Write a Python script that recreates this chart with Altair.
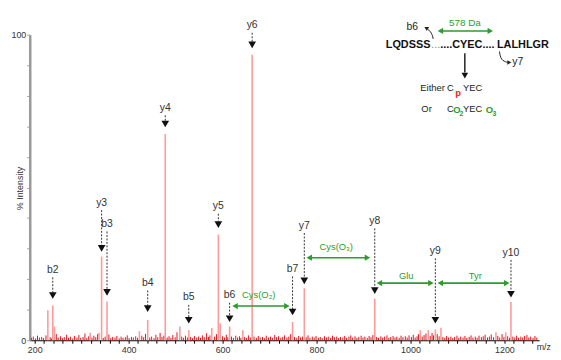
import altair as alt
import pandas as pd

# ---------------- data ----------------
ion_labels = ["b2", "y3", "b3", "b4", "y4", "b5", "y5", "b6", "y6", "b7", "y7", "y8", "y9", "y10"]
ion_mz = [238.5, 342.5, 354, 440.6, 478, 528, 591, 615, 663, 749, 774, 924, 1053, 1214]
ion_int = [11.4, 27.4, 12.7, 6.6, 67.5, 3.3, 34.6, 4.5, 93.4, 6.0, 17.0, 13.6, 3.5, 12.5]
ion_label_y = [23, 45, 38, 18.7, 76, 14, 43.8, 14.7, 103, 23.3, 37.5, 39, 29.2, 28.7]
ion_tip_y = [13.6, 29, 14.6, 9.3, 69.7, 5.5, 36.8, 6.0, 95.6, 8.2, 18.4, 15.2, 5.5, 14.0]

other_mz = [228, 242, 318, 337, 423, 509, 577, 595, 643, 1021, 1038, 1065, 1182, 1203]
other_int = [9.8, 4.5, 2.5, 2.5, 3.0, 4.5, 4.0, 5.5, 3.3, 3.3, 3.3, 4.1, 2.6, 2.6]

noise_peaks = [
    (193, 0.8), (197, 1.2), (202, 0.6), (206, 1.5), (210, 0.9), (215, 1.1), (219, 0.7), (224, 1.6),
    (233, 1.0), (236, 0.6), (246, 2.0), (250, 0.9), (255, 1.3), (259, 0.7), (263, 1.0), (268, 1.8),
    (272, 0.8), (276, 1.2), (281, 0.6), (285, 1.4), (290, 0.9), (294, 1.7), (298, 0.8), (303, 1.1),
    (307, 2.2), (311, 0.7), (315, 1.3), (322, 0.9), (326, 1.5), (330, 1.0), (334, 2.0), (346, 0.8),
    (350, 1.2), (358, 1.9), (362, 0.7), (366, 1.1), (371, 0.9), (375, 1.4), (380, 0.6), (384, 1.2),
    (388, 0.8), (393, 1.0), (397, 1.6), (401, 0.7), (406, 1.1), (410, 0.9), (415, 1.3), (419, 0.8),
    (428, 1.5), (432, 1.0), (436, 2.1), (445, 0.9), (449, 1.2), (454, 0.7), (458, 1.8), (462, 1.0),
    (467, 2.4), (471, 1.1), (475, 1.5), (482, 0.9), (486, 1.3), (490, 0.8), (494, 1.7), (499, 1.0),
    (503, 2.6), (513, 1.2), (517, 0.8), (521, 1.5), (525, 0.9), (532, 1.1), (536, 0.7), (540, 1.4),
    (545, 0.9), (549, 1.2), (553, 0.8), (557, 1.6), (561, 1.0), (566, 2.3), (570, 1.1), (573, 1.6),
    (583, 1.2), (587, 2.0), (600, 1.3), (604, 0.9), (608, 1.8), (611, 1.0), (619, 1.2), (623, 0.8),
    (628, 1.5), (632, 0.9), (636, 1.3), (639, 0.8), (647, 1.1), (651, 0.7), (655, 1.6), (659, 0.9),
    (667, 1.2), (672, 0.8), (676, 1.4), (680, 0.9), (685, 1.1), (689, 0.7), (693, 1.5), (698, 0.9),
    (702, 1.2), (706, 0.8), (711, 1.7), (715, 1.0), (719, 1.3), (724, 0.8), (728, 1.1), (732, 1.6),
    (737, 0.9), (741, 1.2), (745, 2.0), (753, 1.1), (758, 0.8), (762, 1.4), (766, 0.9), (770, 1.2),
    (778, 1.0), (782, 1.6), (786, 0.8), (791, 1.2), (795, 0.9), (799, 1.4), (804, 0.8), (808, 1.1),
    (812, 0.7), (817, 1.3), (821, 0.9), (825, 1.2), (830, 0.8), (834, 1.5), (838, 1.0), (843, 1.2),
    (847, 0.7), (851, 1.1), (856, 0.9), (860, 1.4), (864, 0.8), (869, 1.2), (873, 1.6), (877, 0.9),
    (882, 1.3), (886, 0.8), (890, 1.1), (895, 1.5), (899, 0.9), (903, 1.2), (908, 0.8), (912, 1.4),
    (916, 1.0), (920, 1.7), (928, 1.1), (932, 0.8), (937, 1.3), (941, 0.9), (945, 1.2), (950, 1.6),
    (954, 0.8), (958, 1.1), (963, 1.4), (967, 0.9), (971, 1.2), (976, 0.8), (980, 1.5), (984, 1.0),
    (989, 1.3), (993, 0.9), (997, 1.6), (1002, 1.1), (1006, 1.8), (1010, 0.9), (1014, 1.3), (1017, 2.0),
    (1025, 1.2), (1029, 1.7), (1033, 2.2), (1042, 1.4), (1046, 2.4), (1049, 1.6), (1057, 2.0), (1061, 1.3),
    (1069, 1.1), (1073, 0.8), (1077, 1.4), (1081, 0.9), (1086, 1.2), (1090, 0.7), (1094, 1.1), (1099, 1.5),
    (1103, 0.8), (1107, 1.2), (1112, 0.9), (1116, 1.4), (1120, 0.8), (1125, 1.1), (1129, 1.6), (1133, 0.9),
    (1138, 1.2), (1142, 0.8), (1146, 1.5), (1151, 1.0), (1155, 1.3), (1159, 1.8), (1164, 0.9), (1168, 1.2),
    (1172, 1.9), (1177, 1.0), (1186, 1.4), (1190, 0.9), (1195, 2.0), (1199, 1.1), (1207, 1.3), (1211, 0.8),
    (1218, 1.2), (1222, 0.9), (1226, 1.5), (1230, 0.8), (1235, 1.2), (1239, 0.9), (1243, 1.4), (1248, 1.7),
    (1252, 0.9), (1256, 1.2), (1261, 0.8), (1265, 1.4), (1269, 0.9),
]

gap_names = ["Cys(O\u2082)", "Cys(O\u2083)", "Glu", "Tyr"]
gap_x1 = [621, 779, 928.4, 1058]
gap_x2 = [742.5, 914, 1049, 1210.5]
gap_y = [11.2, 27.0, 18.7, 18.7]
gap_text_x = [677, 842, 991, 1138]
gap_text_y = [14.7, 30.6, 21.0, 21.0]

# inset (sequence scheme) texts: (text, x, y)
inset_bold_left = [("LQDSSS", 947.4, 96.7), ("....CYEC....", 1063.2, 96.7)]
inset_bold_right = [("LALHLGR", 1294.7, 96.7)]
inset_grey = [("...", 1044.0, 96.7)]
inset_plain = [("Either", 1021.1, 82.6), ("C", 1077.9, 82.6), ("YEC", 1112.0, 82.6),
               ("Or", 1023.2, 75.6), ("C", 1077.9, 75.6), ("YEC", 1112.0, 75.6)]
inset_y7 = [("y7", 1216.8, 90.9)]
inset_green_big = [("O", 1091.0, 75.4), ("O", 1160.5, 75.4)]
inset_green_sub = [("2", 1104.5, 73.9), ("3", 1174.5, 73.9)]
inset_red_sub = [("p", 1095.5, 81.0)]
inset_b6 = [("b6", 1003.6, 102.6)]
da_label = [("578 Da", 1116, 103.7)]
da_arrow = [(1058.3, 1175.4, 101.2)]

# curved hook arrows in the inset
hook_b6 = [(1048.4, 98.6), (1045.5, 100.6), (1036.0, 101.9)]
hook_y7 = [(1189.5, 94.5), (1192.5, 91.6), (1207.0, 90.9)]

# ---------------- styling ----------------
FONT = "Liberation Sans"
GREEN = "#2a9d2a"
xs = alt.Scale(domain=[189.5, 1274], nice=False, zero=False)
ys = alt.Scale(domain=[0, 100], nice=False, zero=True)

x_axis = alt.Axis(values=list(range(200, 1280, 20)),
                  labelExpr="datum.value % 200 == 0 ? datum.label : ''",
                  format="d", tickSize=3, tickColor="#000", domainColor="#000", domainWidth=1,
                  labelFont=FONT, labelFontSize=9, labelColor="#333", labelPadding=2,
                  grid=False, titleFont=FONT, titleFontSize=9, titleFontWeight="normal",
                  titleColor="#333", titleAngle=0, titleX=512, titleY=6,
                  titleAlign="left", titleBaseline="middle")
y_axis = alt.Axis(values=list(range(0, 101, 10)),
                  labelExpr="datum.value == 0 || datum.value == 100 ? datum.label : ''",
                  tickSize=3, tickColor="#999", domainColor="#999", domainWidth=2.5,
                  labelFont=FONT, labelFontSize=9, labelColor="#333", labelPadding=1,
                  grid=False, titleFont=FONT, titleFontSize=9, titleFontWeight="normal",
                  titleColor="#333", titleAngle=270, titleX=-10, titleY=155,
                  titleAlign="center", titleBaseline="middle")


def X(f="x"):
    return alt.X(f"{f}:Q", scale=xs, axis=x_axis, title="m/z")


def Y(f="y"):
    return alt.Y(f"{f}:Q", scale=ys, axis=y_axis, title="% Intensity")


def text_layer(rows, **props):
    df = pd.DataFrame(rows, columns=["t", "x", "y"])
    base = dict(font=FONT, baseline="middle")
    base.update(props)
    return alt.Chart(df).mark_text(**base).encode(x=X(), y=Y(), text="t:N")


# base spectrum
noise_df = pd.DataFrame(noise_peaks, columns=["x", "y"])
noise_df["y0"] = 0
noise = alt.Chart(noise_df).mark_rule(color="#e8101a", strokeWidth=1).encode(
    x=X(), y=Y(), y2="y0:Q")

peaks_df = pd.DataFrame({"x": ion_mz + other_mz, "y": ion_int + other_int})
peaks_df["y0"] = 0
peaks = alt.Chart(peaks_df).mark_rule(color="#ff9a9a", strokeWidth=1.6).encode(
    x=X(), y=Y(), y2="y0:Q")

ann = pd.DataFrame({"t": ion_labels, "x": ion_mz, "y": ion_label_y, "tip": ion_tip_y})
ann["lo"] = ann["tip"] + 2.0
ann["hi"] = ann["y"] - 2.4
ann["tri"] = ann["tip"] + 1.05
ion_text = alt.Chart(ann).mark_text(font=FONT, fontSize=10.5, color="#333", baseline="middle").encode(
    x=X(), y=Y(), text="t:N")
ion_dash = alt.Chart(ann).mark_rule(color="#333", strokeWidth=1, strokeDash=[2, 1.5]).encode(
    x=X(), y=Y("hi"), y2="lo:Q")
ion_tri = alt.Chart(ann).mark_point(shape="triangle-down", size=60, filled=True, color="#111", opacity=1).encode(
    x=X(), y=Y("tri"))

# green mass-difference arrows
gaps = pd.DataFrame({"t": gap_names, "x1": gap_x1, "x2": gap_x2, "y": gap_y,
                     "tx": gap_text_x, "ty": gap_text_y})
gaps_all = pd.concat([gaps[["x1", "x2", "y"]],
                      pd.DataFrame(da_arrow, columns=["x1", "x2", "y"])], ignore_index=True)
gaps_all["l"] = gaps_all["x1"] + 5.5
gaps_all["r"] = gaps_all["x2"] - 5.5
g_line = alt.Chart(gaps_all).mark_rule(color=GREEN, strokeWidth=1.6).encode(
    x=X("l"), x2="r:Q", y=Y())
g_left = alt.Chart(gaps_all).mark_point(shape="triangle-left", size=40, filled=True, color=GREEN, opacity=1).encode(
    x=X("l"), y=Y())
g_right = alt.Chart(gaps_all).mark_point(shape="triangle-right", size=40, filled=True, color=GREEN, opacity=1).encode(
    x=X("r"), y=Y())
g_text = alt.Chart(gaps).mark_text(font=FONT, fontSize=9.5, color=GREEN, baseline="middle").encode(
    x=X("tx"), y=Y("ty"), text="t:N")

# inset
t_bold_l = text_layer(inset_bold_left, fontSize=11, fontWeight="bold", color="#111", align="left")
t_bold_r = text_layer(inset_bold_right, fontSize=11, fontWeight="bold", color="#111", align="right")
t_grey = text_layer(inset_grey, fontSize=11, color="#888", align="left")
t_plain = text_layer(inset_plain, fontSize=9.5, color="#222", align="left")
t_y7 = text_layer(inset_y7, fontSize=10.5, color="#222", align="left")
t_green = text_layer(inset_green_big, fontSize=9.5, color=GREEN, align="left", fontWeight="bold")
t_gsub = text_layer(inset_green_sub, fontSize=7, color=GREEN, align="left", fontWeight="bold")
t_red = text_layer(inset_red_sub, fontSize=9.5, color="#ff1a1a", align="left", fontWeight="bold")
t_b6 = text_layer(inset_b6, fontSize=10.5, color="#222", align="center")
t_da = text_layer(da_label, fontSize=10, color=GREEN, align="center")

down_df = pd.DataFrame({"x": [1115.8], "y": [93.9], "y2": [87.6], "tri": [86.6]})
down_line = alt.Chart(down_df).mark_rule(color="#111", strokeWidth=1.4).encode(x=X(), y=Y(), y2="y2:Q")
down_tri = alt.Chart(down_df).mark_point(shape="triangle-down", size=45, filled=True, color="#111", opacity=1).encode(
    x=X(), y=Y("tri"))

hooks = pd.DataFrame(
    [dict(g="b6", o=i, x=p[0], y=p[1]) for i, p in enumerate(hook_b6)] +
    [dict(g="y7", o=i, x=p[0], y=p[1]) for i, p in enumerate(hook_y7)])
hook_lines = alt.Chart(hooks).mark_line(color="#222", strokeWidth=1, interpolate="basis").encode(
    x=X(), y=Y(), detail="g:N", order="o:Q")
heads = pd.DataFrame({"x": [1033.5, 1210.5], "y": [102.2, 90.9], "a": [300, 90]})
hook_heads = alt.Chart(heads).mark_point(shape="triangle-up", size=22, filled=True, color="#222", opacity=1).encode(
    x=X(), y=Y(), angle=alt.Angle("a:Q", scale=None))

chart = alt.layer(
    noise, peaks, ion_dash, ion_tri, ion_text,
    g_line, g_left, g_right, g_text,
    t_bold_l, t_bold_r, t_grey, t_plain, t_y7, t_green, t_gsub, t_red, t_b6, t_da,
    down_line, down_tri, hook_lines, hook_heads,
).properties(
    width=515, height=309,
    autosize=alt.AutoSizeParams(type="none"),
    padding={"left": 22, "top": 25, "right": 14, "bottom": 16},
).configure_view(stroke=None)

chart.save("out.html", embed_options={"renderer": "svg", "actions": False})
